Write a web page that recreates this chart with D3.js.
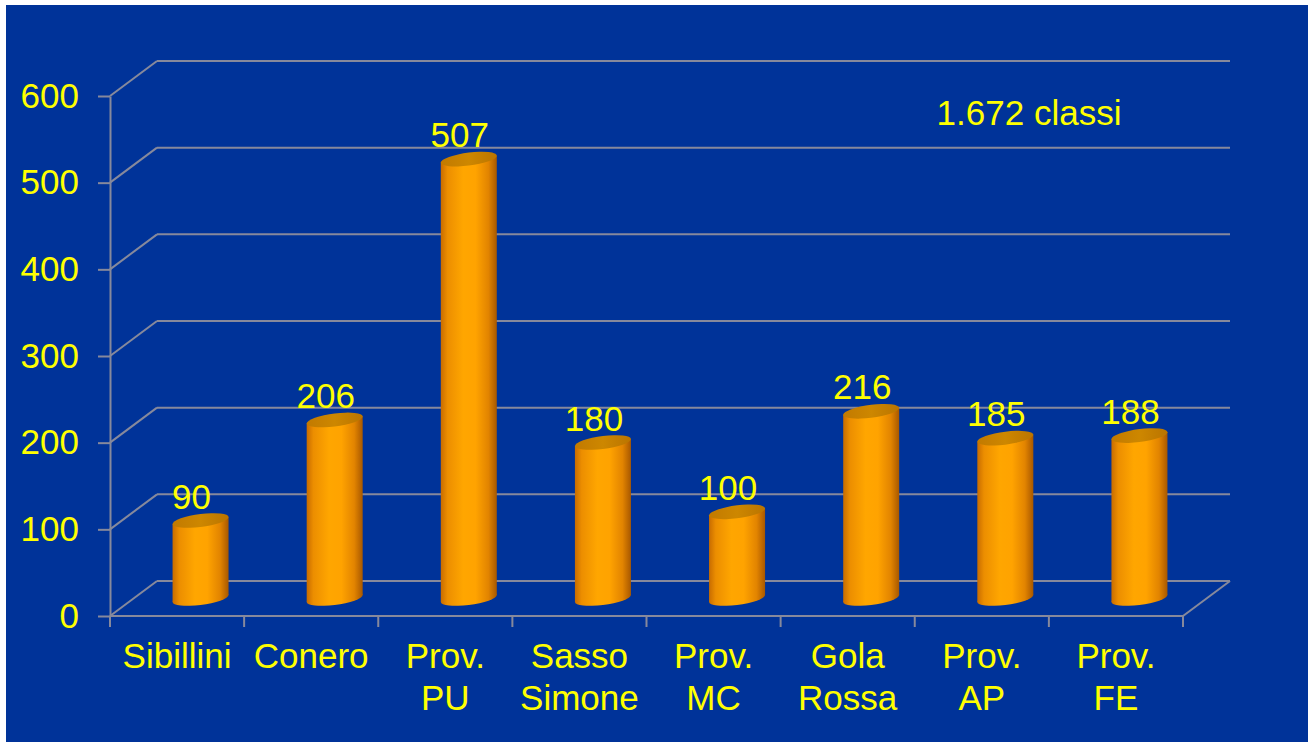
<!DOCTYPE html>
<html>
<head>
<meta charset="utf-8">
<script src="https://cdn.jsdelivr.net/npm/d3@7"></script>
<style>
  html, body { margin: 0; padding: 0; background: #ffffff; }
  svg { display: block; }
  text { font-family: Arial, "Liberation Sans", sans-serif; fill: #ffff00; }
</style>
</head>
<body>
<script>
// chart data
const categories = ['Sibillini', 'Conero', 'Prov.|PU', 'Sasso|Simone', 'Prov.|MC', 'Gola|Rossa', 'Prov.|AP', 'Prov.|FE']
const values = [90, 206, 507, 180, 100, 216, 185, 188]
const yTicks = [0, 100, 200, 300, 400, 500, 600]
const note = '1.672 classi'

const w = 1308
const h = 742

// 3d depth offset of the back wall
const depth = { dx: 47, dy: -35 }

const svg = d3.select('body')
  .append('svg')
  .attr('width', w)
  .attr('height', h)

// blue panel (white strip on top and left)
svg.append('rect')
  .attr('x', 6)
  .attr('y', 5)
  .attr('width', w - 6)
  .attr('height', h - 5)
  .style('fill', '#003399')

// scales
const xScale = d3.scaleBand()
  .domain(categories)
  .range([110, 1183])

const yScale = d3.scaleLinear()
  .domain([0, 600])
  .range([616, 96])

const gridColor = '#86899c'

// gradients for the cylinders
const defs = svg.append('defs')
const bodyGrad = defs.append('linearGradient').attr('id', 'bodyGrad')
  .attr('x1', '0%').attr('x2', '100%').attr('y1', '0%').attr('y2', '0%')
;[['0%', '#c86c00'], ['12%', '#ec8e00'], ['40%', '#ffa600'], ['62%', '#ffa300'], ['85%', '#e28400'], ['100%', '#a85800']]
  .forEach(s => bodyGrad.append('stop').attr('offset', s[0]).attr('stop-color', s[1]))
const capGrad = defs.append('linearGradient').attr('id', 'capGrad')
  .attr('x1', '0%').attr('x2', '100%').attr('y1', '0%').attr('y2', '0%')
;[['0%', '#c27a00'], ['50%', '#cd8700'], ['100%', '#ba7400']]
  .forEach(s => capGrad.append('stop').attr('offset', s[0]).attr('stop-color', s[1]))

//
// walls and gridlines
//
const grid = svg.append('g')
  .style('stroke', gridColor)
  .style('stroke-width', 2)
  .style('fill', 'none')

yTicks.forEach(v => {
  const yf = yScale(v)
  // back wall line
  grid.append('line')
    .attr('x1', xScale.range()[0] + depth.dx)
    .attr('x2', xScale.range()[1] + depth.dx)
    .attr('y1', yf + depth.dy)
    .attr('y2', yf + depth.dy)
  // side wall diagonal
  grid.append('line')
    .attr('x1', xScale.range()[0])
    .attr('x2', xScale.range()[0] + depth.dx)
    .attr('y1', yf)
    .attr('y2', yf + depth.dy)
})

// floor front edge and right diagonal
grid.append('line')
  .attr('x1', xScale.range()[0])
  .attr('x2', xScale.range()[1])
  .attr('y1', yScale(0))
  .attr('y2', yScale(0))
grid.append('line')
  .attr('x1', xScale.range()[1])
  .attr('x2', xScale.range()[1] + depth.dx)
  .attr('y1', yScale(0))
  .attr('y2', yScale(0) + depth.dy)

// category boundary ticks
const bounds = categories.map(c => xScale(c)).concat([xScale.range()[1]])
grid.selectAll('line.xtick')
  .data(bounds)
  .enter()
  .append('line')
  .attr('class', 'xtick')
  .attr('x1', d => d)
  .attr('x2', d => d)
  .attr('y1', yScale(0))
  .attr('y2', yScale(0) + 11)

// y axis
const yAxis = d3.axisLeft(yScale)
  .tickValues(yTicks)
  .tickSize(12)
  .tickSizeOuter(0)
  .tickPadding(19)

const yAxisG = svg.append('g')
  .attr('transform', `translate(${xScale.range()[0]},0)`)
  .call(yAxis)

yAxisG.select('.domain').style('stroke', gridColor).style('stroke-width', 2)
yAxisG.selectAll('.tick line').style('stroke', gridColor).style('stroke-width', 2)
yAxisG.selectAll('.tick text')
  .attr('dy', '0.32em')
  .style('font-size', '35px')
  .style('font-family', 'Arial, "Liberation Sans", sans-serif')
  .style('fill', '#ffff00')

//
// cylinders
//
const rx = 28
const ry = 6.5
const skew = -7

svg.selectAll('g.bar')
  .data(values)
  .enter()
  .append('g')
  .attr('class', 'bar')
  .each(function(d, i) {
    const cx = xScale(categories[i]) + xScale.bandwidth() / 2 + depth.dx / 2
    const base = yScale(0) + depth.dy / 2
    const ht = yScale(0) - yScale(d)

    const g = d3.select(this)
      .append('g')
      .attr('transform', `translate(${cx},${base}) skewY(${skew})`)

    g.append('ellipse')
      .attr('cx', 0)
      .attr('cy', 0)
      .attr('rx', rx)
      .attr('ry', ry)
      .style('fill', 'url(#bodyGrad)')

    g.append('rect')
      .attr('x', -rx)
      .attr('y', -ht)
      .attr('width', rx * 2)
      .attr('height', ht)
      .style('fill', 'url(#bodyGrad)')

    g.append('ellipse')
      .attr('cx', 0)
      .attr('cy', -ht)
      .attr('rx', rx)
      .attr('ry', ry)
      .style('fill', 'url(#capGrad)')

    d3.select(this)
      .append('text')
      .attr('x', cx - 9)
      .attr('y', yScale(d) + depth.dy / 2 - 12)
      .attr('text-anchor', 'middle')
      .style('font-size', '35px')
      .text(d)
  })

// category labels
svg.selectAll('text.cat')
  .data(categories)
  .enter()
  .append('text')
  .attr('class', 'cat')
  .attr('text-anchor', 'middle')
  .style('font-size', '35px')
  .each(function(d) {
    const lines = d.split('|')
    const cx = xScale(d) + xScale.bandwidth() / 2
    lines.forEach((l, k) => {
      d3.select(this)
        .append('tspan')
        .attr('x', cx)
        .attr('y', 668 + k * 42)
        .text(l)
    })
  })

// annotation
svg.append('text')
  .attr('x', 1029)
  .attr('y', 125)
  .attr('text-anchor', 'middle')
  .style('font-size', '35px')
  .text(note)
</script>
</body>
</html>
